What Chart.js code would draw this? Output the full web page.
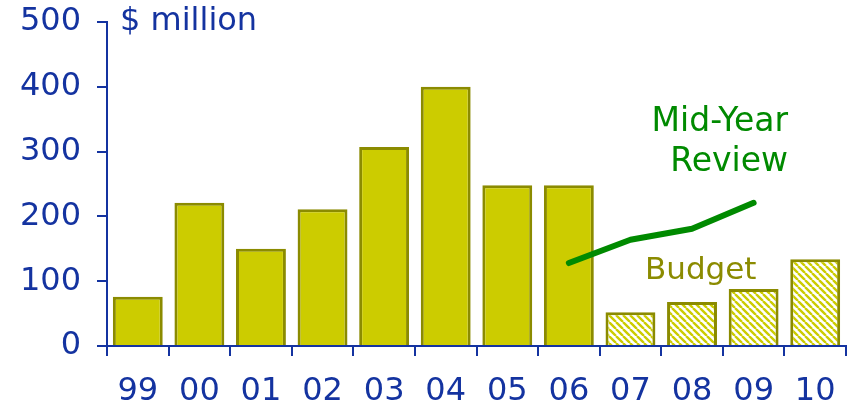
<!DOCTYPE html>
<html>
<head>
<meta charset="utf-8">
<script src="https://cdn.jsdelivr.net/npm/chart.js@4"></script>
<style>
  html, body { margin: 0; padding: 0; background: #fff; }
  #wrap { width: 851px; height: 410px; }
</style>
</head>
<body>
<div id="wrap"><canvas id="budgetChart"></canvas></div>
<script>
// Data
const years = ['99', '00', '01', '02', '03', '04', '05', '06', '07', '08', '09', '10'];
const spending = [76, 221, 150, 211, 307, 400, 248, 248, 52, 68, 88, 134];
const midYearReview = [null, null, null, null, null, null, null, 128, 164, 181, 221, null];
const budgetFrom = 8; // bars from this index on are budget (hatched)
const yTicks = [0, 100, 200, 300, 400, 500];

const BLUE = '#1433A0';
const FONT = '"DejaVu Sans", Verdana, sans-serif';

// hatched fill for budget years
function makeHatch() {
    const c = document.createElement('canvas');
    c.width = 7; c.height = 7;
    const g = c.getContext('2d');
    g.fillStyle = '#ffffff';
    g.fillRect(0, 0, 7, 7);
    g.strokeStyle = '#CCCC00';
    g.lineWidth = 2.4;
    g.beginPath();
    for (let k = -7; k <= 14; k += 7) {
        g.moveTo(k, 0);
        g.lineTo(k + 7, 7);
    }
    g.stroke();
    return g.createPattern(c, 'repeat');
}
const hatch = makeHatch();

// Text labels drawn on the chart
const labelsPlugin = {
    id: 'labels',
    afterDraw(chart) {
        const ctx = chart.ctx;
        ctx.save();
        ctx.font = '32px ' + FONT;
        ctx.textBaseline = 'middle';
        ctx.fillStyle = BLUE;
        ctx.textAlign = 'left';
        ctx.fillText('$ million', 120, 22);
        ctx.fillStyle = '#008A00';
        ctx.textAlign = 'right';
        ctx.font = '33px ' + FONT;
        ctx.fillText('Mid-Year', 788, 122);
        ctx.fillText('Review', 788, 162);
        ctx.font = '31px ' + FONT;
        ctx.fillStyle = '#8B8B00';
        ctx.textAlign = 'left';
        ctx.fillText('Budget', 645, 271);
        ctx.restore();
    }
};

const ctx = document.getElementById('budgetChart').getContext('2d');
new Chart(ctx, {
    data: {
        labels: years,
        datasets: [{
            type: 'line',
            data: midYearReview,
            borderColor: '#008A00',
            borderWidth: 6,
            borderCapStyle: 'round',
            borderJoinStyle: 'round',
            pointRadius: 0,
            tension: 0,
            order: 0
        }, {
            type: 'bar',
            data: spending,
            backgroundColor: spending.map((_, i) => i >= budgetFrom ? hatch : '#CCCC00'),
            borderColor: '#8B8B00',
            borderWidth: 3,
            borderSkipped: 'bottom',
            categoryPercentage: 0.81,
            barPercentage: 1,
            order: 1
        }]
    },
    options: {
        responsive: true,
        maintainAspectRatio: false,
        animation: false,
        layout: {
            autoPadding: false,
            padding: { left: 0, top: 22, right: 5, bottom: 0 }
        },
        plugins: {
            legend: { display: false },
            tooltip: { enabled: false }
        },
        scales: {
            x: {
                grid: {
                    offset: true,
                    drawOnChartArea: false,
                    drawTicks: true,
                    tickLength: 10,
                    color: BLUE,
                    lineWidth: 2
                },
                border: { color: BLUE, width: 2 },
                ticks: {
                    color: BLUE,
                    font: { family: FONT, size: 32 },
                    padding: 16,
                    maxRotation: 0
                },
                afterFit: s => {
                    s.height = 64;
                    s.paddingLeft = 0;
                    s.paddingRight = 0;
                }
            },
            y: {
                min: 0,
                max: 500,
                afterBuildTicks: s => { s.ticks = yTicks.map(v => ({ value: v })); },
                grid: {
                    drawOnChartArea: false,
                    drawTicks: true,
                    tickLength: 10,
                    color: BLUE,
                    lineWidth: 2
                },
                border: { color: BLUE, width: 2 },
                ticks: {
                    color: BLUE,
                    font: { family: FONT, size: 32 },
                    padding: 16
                },
                afterFit: s => {
                    s.width = 107;
                    s.paddingTop = 0;
                    s.paddingBottom = 0;
                }
            }
        }
    },
    plugins: [labelsPlugin]
});
</script>
</body>
</html>
